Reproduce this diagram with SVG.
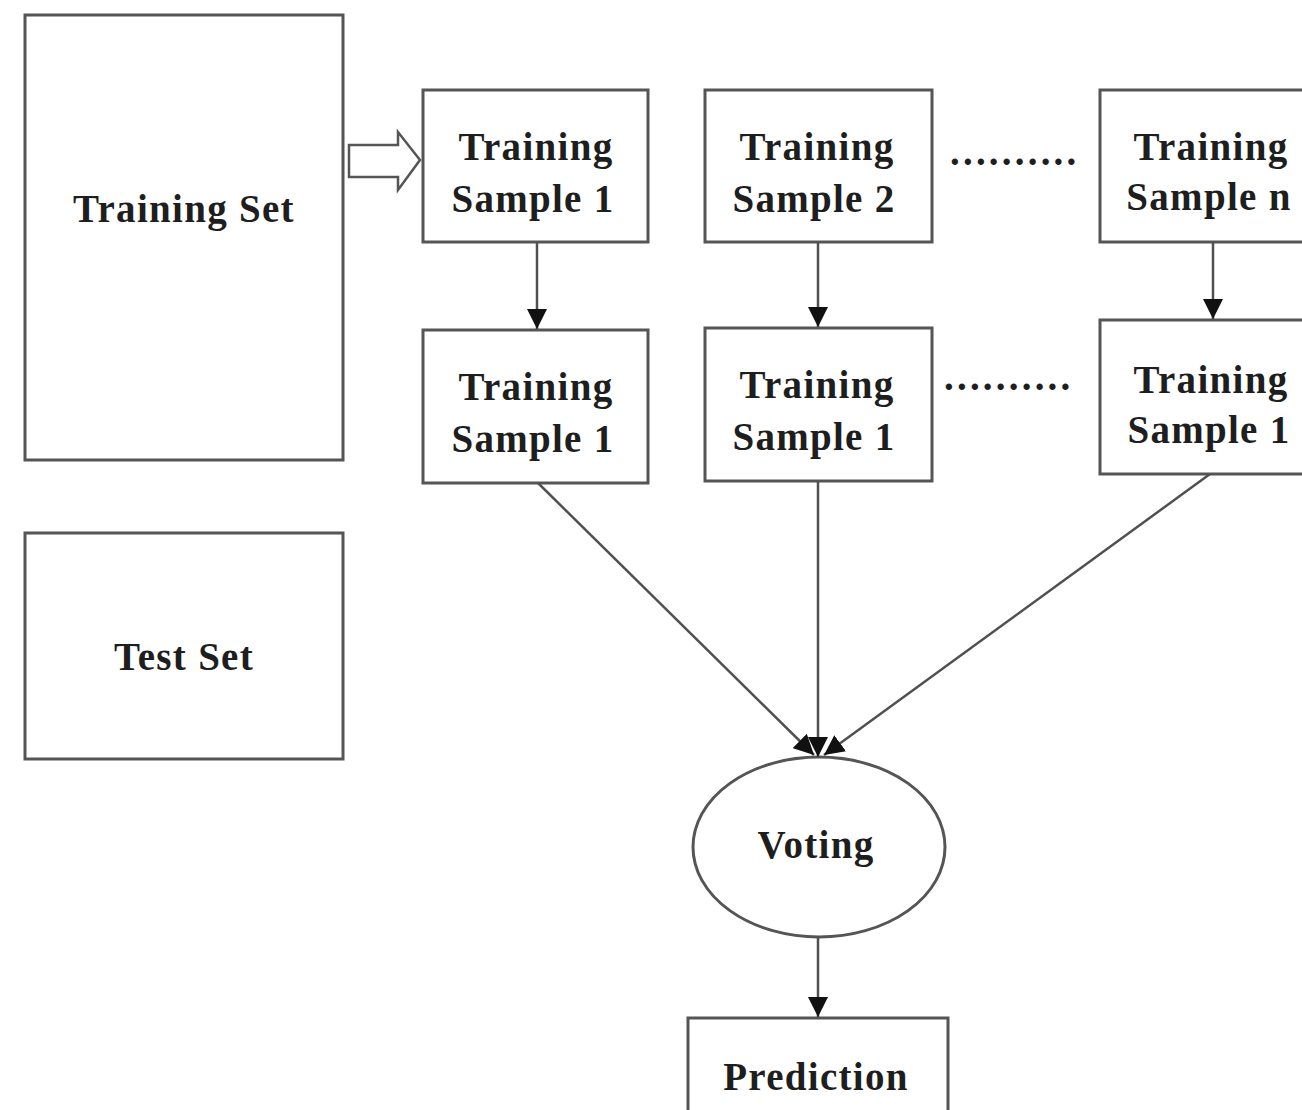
<svg xmlns="http://www.w3.org/2000/svg" width="1302" height="1110" viewBox="0 0 1302 1110">
  <style>
    .box { fill: #ffffff; stroke: #555555; stroke-width: 3; }
    .lbl { font-family: "Liberation Serif", "Times New Roman", serif; font-weight: bold; font-size: 39px; fill: #1e1e1e; text-anchor: middle; letter-spacing: 1.3px; }
    .dots { font-family: "Liberation Serif", "Times New Roman", serif; font-weight: bold; font-size: 39px; fill: #1e1e1e; letter-spacing: 3.2px; }
    .edge { fill: none; stroke: #505050; stroke-width: 2.5; }
  </style>
  <defs>
    <marker id="head" viewBox="0 0 10 10" refX="10" refY="5" markerWidth="8" markerHeight="8" markerUnits="strokeWidth" orient="auto">
      <path d="M0,0 L10,5 L0,10 Z" fill="#111111"/>
    </marker>
  </defs>
  <rect width="1302" height="1110" fill="#ffffff"/>

  <g id="training-set">
    <rect class="box" x="25" y="15" width="318" height="445"/>
    <text class="lbl" x="184" y="222">Training Set</text>
  </g>

  <g id="test-set">
    <rect class="box" x="25" y="533" width="318" height="226"/>
    <text class="lbl" x="184" y="670">Test Set</text>
  </g>

  <g id="sample-1">
    <rect class="box" x="423" y="90" width="225" height="152"/>
    <text class="lbl" x="536" y="160">Training</text>
    <text class="lbl" x="533" y="212">Sample 1</text>
  </g>

  <g id="sample-2">
    <rect class="box" x="705" y="90" width="227" height="152"/>
    <text class="lbl" x="817" y="160">Training</text>
    <text class="lbl" x="814" y="212">Sample 2</text>
  </g>

  <g id="sample-n">
    <rect class="box" x="1100" y="90" width="215" height="152"/>
    <text class="lbl" x="1211" y="160">Training</text>
    <text class="lbl" x="1209" y="210">Sample n</text>
  </g>

  <g id="model-1">
    <rect class="box" x="423" y="330" width="225" height="153"/>
    <text class="lbl" x="536" y="400">Training</text>
    <text class="lbl" x="533" y="452">Sample 1</text>
  </g>

  <g id="model-2">
    <rect class="box" x="705" y="328" width="227" height="153"/>
    <text class="lbl" x="817" y="398">Training</text>
    <text class="lbl" x="814" y="450">Sample 1</text>
  </g>

  <g id="model-n">
    <rect class="box" x="1100" y="320" width="215" height="154"/>
    <text class="lbl" x="1211" y="393">Training</text>
    <text class="lbl" x="1209" y="443">Sample 1</text>
  </g>

  <g id="ellipsis-top">
    <text class="dots" x="950" y="165">..........</text>
  </g>
  <g id="ellipsis-bottom">
    <text class="dots" x="944" y="390">..........</text>
  </g>

  <g id="voting">
    <ellipse class="box" cx="819" cy="847" rx="126" ry="90"/>
    <text class="lbl" x="816" y="858">Voting</text>
  </g>

  <g id="prediction">
    <rect class="box" x="688" y="1018" width="260" height="110"/>
    <text class="lbl" x="816" y="1090">Prediction</text>
  </g>

  <g id="connectors">
    <!-- hollow block arrow from the training set into the first sample -->
    <path d="M349,145 L398,145 L398,132 L420,160 L398,190 L398,177 L349,177 Z" fill="#ffffff" stroke="#555555" stroke-width="2.5"/>
    <!-- sample to model -->
    <line class="edge" x1="537" y1="242" x2="537" y2="329" marker-end="url(#head)"/>
    <line class="edge" x1="818" y1="242" x2="818" y2="327" marker-end="url(#head)"/>
    <line class="edge" x1="1213" y1="242" x2="1213" y2="319" marker-end="url(#head)"/>
    <!-- models into voting -->
    <line class="edge" x1="538" y1="483" x2="814" y2="755" marker-end="url(#head)"/>
    <line class="edge" x1="818" y1="481" x2="818" y2="757" marker-end="url(#head)"/>
    <line class="edge" x1="1210" y1="474" x2="824" y2="755" marker-end="url(#head)"/>
    <!-- voting to prediction -->
    <line class="edge" x1="818" y1="937" x2="818" y2="1017" marker-end="url(#head)"/>
  </g>
</svg>
